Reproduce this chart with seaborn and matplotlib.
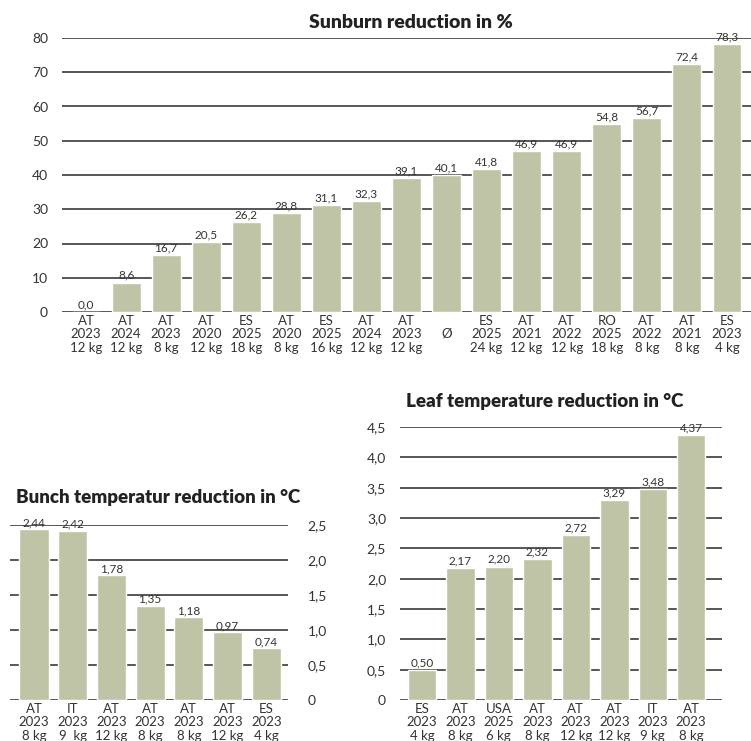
import matplotlib
matplotlib.use("Agg")
import matplotlib.pyplot as plt
from matplotlib.transforms import ScaledTranslation
import seaborn as sns
import pandas as pd

# Sunburn reduction (top)
sun_labels = ["AT\n2023\n12 kg", "AT\n2024\n12 kg", "AT\n2023\n8 kg", "AT\n2020\n12 kg",
              "ES\n2025\n18 kg", "AT\n2020\n8 kg", "ES\n2025\n16 kg", "AT\n2024\n12 kg",
              "AT\n2023\n12 kg", "Ø", "ES\n2025\n24 kg", "AT\n2021\n12 kg",
              "AT\n2022\n12 kg", "RO\n2025\n18 kg", "AT\n2022\n8 kg", "AT\n2021\n8 kg",
              "ES\n2023\n4 kg"]
sun_values = [0.0, 8.6, 16.7, 20.5, 26.2, 28.8, 31.1, 32.3, 39.1, 40.1, 41.8, 46.9,
              46.9, 54.8, 56.7, 72.4, 78.3]
sun_yticks = [0, 10, 20, 30, 40, 50, 60, 70, 80]

# Bunch temperature reduction (bottom left)
bunch_labels = ["AT\n2023\n8 kg", "IT\n2023\n9  kg", "AT\n2023\n12 kg", "AT\n2023\n8 kg",
                "AT\n2023\n8 kg", "AT\n2023\n12 kg", "ES\n2023\n4 kg"]
bunch_values = [2.44, 2.42, 1.78, 1.35, 1.18, 0.97, 0.74]
bunch_yticks = [0, 0.5, 1.0, 1.5, 2.0, 2.5]

# Leaf temperature reduction (bottom right)
leaf_labels = ["ES\n2023\n4 kg", "AT\n2023\n8 kg", "USA\n2025\n6 kg", "AT\n2023\n8 kg",
               "AT\n2023\n12 kg", "AT\n2023\n12 kg", "IT\n2023\n9 kg", "AT\n2023\n8 kg"]
leaf_values = [0.50, 2.17, 2.20, 2.32, 2.72, 3.29, 3.48, 4.37]
leaf_yticks = [0, 0.5, 1.0, 1.5, 2.0, 2.5, 3.0, 3.5, 4.0, 4.5]

sns.set_theme(style="white")
plt.rcParams['font.family'] = ['Lato', 'DejaVu Sans']

BAR = "#bfc4a6"
TXT = "#333333"
GRID = "#3a3a3a"


def comma(v, dec):
    return f"{v:.{dec}f}".replace(".", ",")


def draw(ax, labels, values, yticks, dec, tick_dec, xlim, width, right=False):
    df = pd.DataFrame({"pos": range(len(values)), "val": values})
    sns.barplot(data=df, x="pos", y="val", color=BAR, width=width, saturation=1,
                ax=ax, zorder=3)
    ax.set_xlim(*xlim)
    ax.set_ylim(yticks[0], yticks[-1])
    for y in yticks:
        ax.axhline(y, color=GRID, lw=1.2, zorder=1)
    for i, v in enumerate(values):
        ax.text(i, v + (yticks[-1] * 0.006), comma(v, dec), ha="center", va="bottom",
                fontsize=8.5, color=TXT, zorder=4)
    ax.set_xticks(range(len(values)))
    ax.set_xticklabels(labels, fontsize=9.5, color=TXT, linespacing=1.15)
    ax.set_yticks(yticks)
    ax.set_yticklabels([("0" if t == 0 else comma(t, tick_dec)) for t in yticks],
                       fontsize=10, color=TXT)
    ax.tick_params(axis="x", length=0, pad=2)
    ax.tick_params(axis="y", length=0, pad=10)
    if right:
        ax.yaxis.tick_right()
        ax.tick_params(axis="y", length=0, pad=14)
    for s in ax.spines.values():
        s.set_visible(False)
    ax.set_xlabel("")
    ax.set_ylabel("")


fig = plt.figure(figsize=(7.51, 7.41), dpi=100)

ax1 = fig.add_axes([62 / 751, 1 - 312 / 741, 689 / 751, 274 / 741])
draw(ax1, sun_labels, sun_values, sun_yticks, 1, 0, (-0.6, 16.6), 0.72)
lab = ax1.get_xticklabels()[9]
lab.set_transform(lab.get_transform() + ScaledTranslation(0, -9 / 72, fig.dpi_scale_trans))
fig.text(411 / 751, 1 - 22 / 741, "Sunburn reduction in %", ha="center", va="center",
         fontsize=14, fontweight="heavy", color="#222222")

ax2 = fig.add_axes([10 / 751, 41 / 741, 278 / 751, 175 / 741])
draw(ax2, bunch_labels, bunch_values, bunch_yticks, 2, 1, (-0.62, 6.56), 0.75, right=True)
fig.text(158 / 751, 1 - 498 / 741, "Bunch temperatur reduction in °C", ha="center",
         va="center", fontsize=13.5, fontweight="heavy", color="#222222")

ax3 = fig.add_axes([400 / 751, 41 / 741, 322 / 751, 273 / 741])
draw(ax3, leaf_labels, leaf_values, leaf_yticks, 2, 1, (-0.57, 7.8), 0.74)
fig.text(545 / 751, 1 - 402 / 741, "Leaf temperature reduction in °C", ha="center",
         va="center", fontsize=13.5, fontweight="heavy", color="#222222")

fig.savefig("out.png", dpi=100)
